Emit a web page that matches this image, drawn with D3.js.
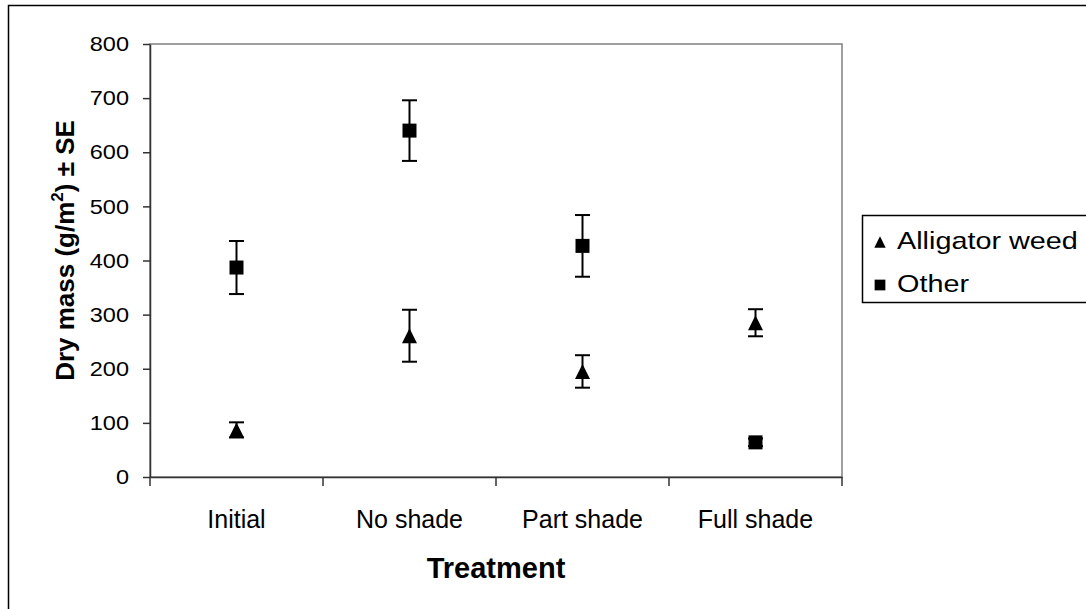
<!DOCTYPE html>
<html>
<head>
<meta charset="utf-8">
<script src="https://cdn.jsdelivr.net/npm/d3@7"></script>
<style>
  html, body { margin: 0; padding: 0; background: #fff; }
  svg { display: block; }
  text { font-family: "Liberation Sans", Arial, sans-serif; fill: #000; }
</style>
</head>
<body>
<svg id="chart" width="1086" height="609"></svg>
<script>
// ---- data ----
const categories = ["Initial", "No shade", "Part shade", "Full shade"];
const alligatorWeed = [87, 261, 195, 285];
const alligatorWeedSE = [14, 48, 30, 25];
const other = [387, 640, 427, 64];
const otherSE = [49, 56, 57, 7];
const yTicks = [0, 100, 200, 300, 400, 500, 600, 700, 800];
const seriesNames = ["Alligator weed", "Other"];

// ---- layout ----
const W = 1086, H = 609;
const plot = { left: 150, right: 842, top: 44, bottom: 477 };
const svg = d3.select("#chart");
const FONT = "Liberation Sans, Arial, sans-serif";

// outer chart frame
svg.append("rect")
  .attr("x", 8.5).attr("y", 5.5)
  .attr("width", W + 20).attr("height", H + 20)
  .attr("fill", "#fff").attr("stroke", "#000").attr("stroke-width", 1.5);

const x = d3.scaleBand().domain(categories).range([plot.left, plot.right]).padding(0);
const y = d3.scaleLinear().domain([0, 800]).range([plot.bottom, plot.top]);

// plot area border (grey)
svg.append("rect")
  .attr("x", plot.left).attr("y", plot.top)
  .attr("width", plot.right - plot.left).attr("height", plot.bottom - plot.top)
  .attr("fill", "#fff").attr("stroke", "#808080").attr("stroke-width", 1.5);

// y axis
const yStretch = 1.12;
const yAxis = d3.axisLeft(y).tickValues(yTicks).tickSize(7).tickPadding(14).tickSizeOuter(0);
const gy = svg.append("g").attr("transform", `translate(${plot.left},0)`).call(yAxis);
gy.select(".domain").attr("stroke", "#333").attr("stroke-width", 1.5);
gy.selectAll(".tick line").attr("stroke", "#333").attr("stroke-width", 1.5);
gy.selectAll(".tick text")
  .attr("font-size", 21).attr("font-family", FONT).attr("fill", "#000")
  .attr("x", -21 / yStretch).attr("transform", `scale(${yStretch},1)`);

// x axis: ticks at category boundaries
const gx = svg.append("g").attr("transform", `translate(0,${plot.bottom})`);
gx.call(d3.axisBottom(x).tickSize(0).tickPadding(40));
gx.select(".domain").attr("stroke", "#333").attr("stroke-width", 1.5);
gx.selectAll(".tick text").attr("font-size", 25).attr("font-family", FONT)
  .attr("fill", "#000").attr("dy", 0).attr("y", 51);
const boundaries = categories.map(c => x(c)).concat([x(categories[categories.length - 1]) + x.bandwidth()]);
gx.selectAll("line.bnd").data(boundaries).enter().append("line")
  .attr("class", "bnd")
  .attr("x1", d => d).attr("x2", d => d)
  .attr("y1", 0).attr("y2", 9)
  .attr("stroke", "#333").attr("stroke-width", 1.5);

// axis titles
svg.append("text")
  .attr("x", (plot.left + plot.right) / 2).attr("y", 578)
  .attr("text-anchor", "middle").attr("font-size", 29).attr("font-weight", "bold")
  .text("Treatment");

const yt = svg.append("text")
  .attr("transform", `translate(74,${(plot.top + plot.bottom) / 2 - 10}) rotate(-90)`)
  .attr("text-anchor", "middle").attr("font-size", 26).attr("font-weight", "bold");
yt.append("tspan").text("Dry mass (g/m");
yt.append("tspan").attr("font-size", 17).attr("dy", -11).text("2");
yt.append("tspan").attr("dy", 11).text(")  \u00B1 SE");

// custom isosceles triangle symbol (width == height == sqrt(size))
const symbolTri = {
  draw(context, size) {
    const s = Math.sqrt(size) / 2;
    context.moveTo(0, -s);
    context.lineTo(s, s);
    context.lineTo(-s, s);
    context.closePath();
  }
};

// series
const series = [
  { name: seriesNames[0], vals: alligatorWeed, se: alligatorWeedSE, type: symbolTri, size: 225 },
  { name: seriesNames[1], vals: other, se: otherSE, type: d3.symbolSquare, size: 196 }
];
const cx = c => x(c) + x.bandwidth() / 2;
const capW = 7.5;

series.forEach(s => {
  const g = svg.append("g");
  const pts = categories.map((c, i) => ({ c, v: s.vals[i], e: s.se[i] }));
  g.selectAll("line.eb").data(pts).enter().append("line")
    .attr("x1", d => cx(d.c)).attr("x2", d => cx(d.c))
    .attr("y1", d => y(d.v - d.e)).attr("y2", d => y(d.v + d.e))
    .attr("stroke", "#000").attr("stroke-width", 2);
  ["t", "b"].forEach(side => {
    g.selectAll("line.cap" + side).data(pts).enter().append("line")
      .attr("x1", d => cx(d.c) - capW).attr("x2", d => cx(d.c) + capW)
      .attr("y1", d => y(side === "t" ? d.v + d.e : d.v - d.e))
      .attr("y2", d => y(side === "t" ? d.v + d.e : d.v - d.e))
      .attr("stroke", "#000").attr("stroke-width", 2);
  });
  g.selectAll("path.m").data(pts).enter().append("path")
    .attr("d", d3.symbol().type(s.type).size(s.size))
    .attr("transform", d => `translate(${cx(d.c)},${y(d.v)})`)
    .attr("fill", "#000");
});

// legend
const lg = svg.append("g");
lg.append("rect").attr("x", 862.5).attr("y", 215.5).attr("width", 260).attr("height", 87)
  .attr("fill", "#fff").attr("stroke", "#000").attr("stroke-width", 1.5);
const legendItems = [
  { name: seriesNames[0], type: symbolTri, size: 130, my: 242, ty: 249 },
  { name: seriesNames[1], type: d3.symbolSquare, size: 115, my: 285, ty: 292 }
];
legendItems.forEach(it => {
  lg.append("path").attr("d", d3.symbol().type(it.type).size(it.size))
    .attr("transform", `translate(880,${it.my})`).attr("fill", "#000");
  lg.append("text").attr("transform", `translate(897,${it.ty}) scale(1.2,1)`)
    .attr("font-size", 24).text(it.name);
});
</script>
</body>
</html>
